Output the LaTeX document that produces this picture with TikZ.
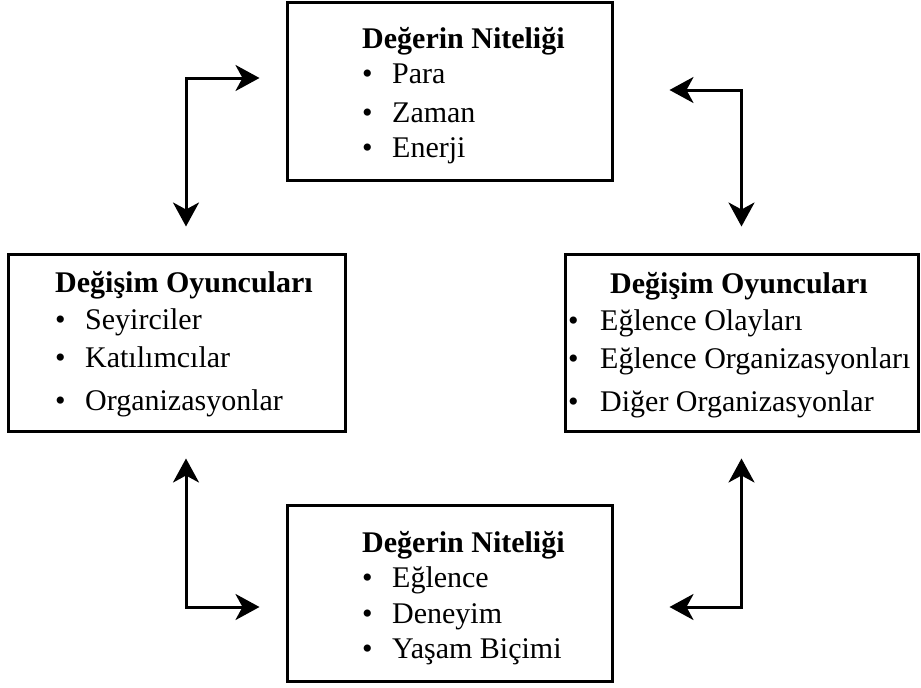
\documentclass[tikz,border=0pt]{standalone}
\usepackage{fontspec}
\setmainfont{Liberation Serif}
\usetikzlibrary{arrows.meta, calc}

\newcommand{\blt}[1]{\makebox[30pt][l]{\textbullet}#1}
\newcommand{\bltr}[1]{\makebox[32pt][l]{\textbullet}#1}

\begin{document}
\begin{tikzpicture}[
    x=1pt, y=-1pt,
    box/.style={draw, line width=3pt, inner sep=0pt},
    txt/.style={anchor=north west, inner sep=0pt, align=left, font=\fontsize{30}{35}\selectfont},
    arrow/.style={{Stealth[length=24pt, width=26pt, inset=7pt]}-{Stealth[length=24pt, width=26pt, inset=7pt]}, line width=3pt, shorten <=26pt, shorten >=26pt}
  ]
  \useasboundingbox (0,0) rectangle (921,688);

  % Boxes
  \node[box, minimum width=325pt, minimum height=178pt] (valtop) at (449.5,91) {};
  \node[box, minimum width=337pt, minimum height=177pt] (actleft) at (176.5,342.5) {};
  \node[box, minimum width=353pt, minimum height=177pt] (actright) at (741.5,342.5) {};
  \node[box, minimum width=325pt, minimum height=176pt] (valbot) at (449.5,593) {};

  % Box texts
  \node[txt] (valtoptxt) at (362,27) {\textbf{Değerin Niteliği}\\ \blt{Para}\\[4pt] \blt{Zaman}\\ \blt{Enerji}};
  \node[txt] (actlefttxt) at (55,271) {\textbf{Değişim Oyuncuları}\\[2pt] \blt{Seyirciler}\\[3pt] \blt{Katılımcılar}\\[8pt] \blt{Organizasyonlar}};
  \node[txt] (actrighttxt) at (568,272) {\hspace*{42pt}\textbf{Değişim Oyuncuları}\\[2pt] \bltr{Eğlence Olayları}\\[3pt] \bltr{Eğlence Organizasyonları}\\[8pt] \bltr{Diğer Organizasyonlar}};
  \node[txt] (valbottxt) at (362,531) {\textbf{Değerin Niteliği}\\ \blt{Eğlence}\\[1pt] \blt{Deneyim}\\ \blt{Yaşam Biçimi}};

  % Arrows
  \draw[arrow] ([xshift=9.5pt]actleft.north) |- ([yshift=13pt]valtop.west);
  \draw[arrow, shorten <=56pt] ([yshift=1pt]valtop.east) -| (actright.north);
  \draw[arrow] ([xshift=9.5pt]actleft.south) |- ([yshift=-14pt]valbot.west);
  \draw[arrow, shorten <=56pt] ([yshift=-14pt]valbot.east) -| (actright.south);

\end{tikzpicture}
\end{document}
